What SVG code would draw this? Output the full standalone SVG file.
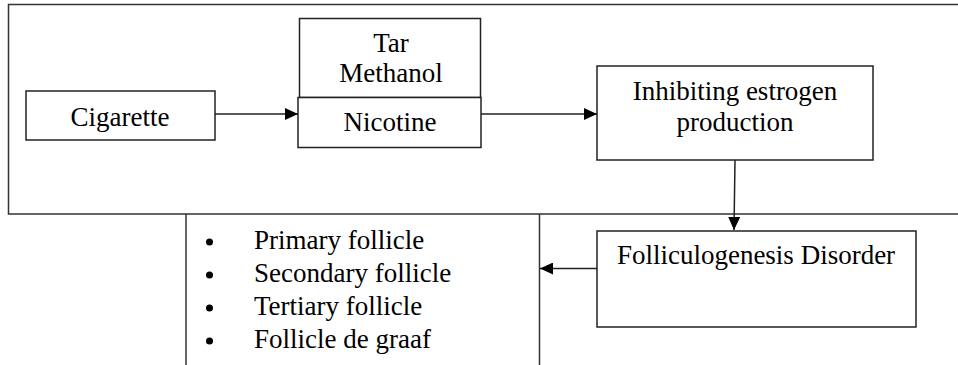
<svg xmlns="http://www.w3.org/2000/svg" width="958" height="365" viewBox="0 0 958 365">
<defs>
<marker id="ah" markerWidth="14" markerHeight="12" refX="13" refY="6" orient="auto" markerUnits="userSpaceOnUse">
<path d="M0,0 L13,6 L0,12 Z" fill="#000"/>
</marker>
<style>
.box{fill:#fff;stroke:#222;stroke-width:1.5}
.frame{fill:none;stroke:#333;stroke-width:1.5}
.t{font-family:"Liberation Serif","Times New Roman",serif;font-size:27px;fill:#000}
.c{text-anchor:middle}
.con{stroke:#222;stroke-width:1.5;fill:none;marker-end:url(#ah)}
</style>
</defs>
<rect width="958" height="365" fill="#fff"/>
<g id="frame">
<path class="frame" d="M958,4.5 H8.5 V214 H958"/>
<path class="frame" d="M186,214 V365 M539.5,214 V365"/>
</g>
<g id="cigarette">
<rect class="box" x="26" y="91" width="189" height="49"/>
<text class="t c" x="120" y="126">Cigarette</text>
</g>
<g id="tar-methanol">
<rect class="box" x="299.5" y="18.5" width="181" height="79"/>
<text class="t c" x="391" y="52">Tar</text>
<text class="t c" x="391" y="82">Methanol</text>
</g>
<g id="nicotine">
<rect class="box" x="298" y="97.5" width="183" height="50"/>
<text class="t c" x="390" y="131">Nicotine</text>
</g>
<g id="inhibiting">
<rect class="box" x="597" y="66" width="276" height="94"/>
<text class="t c" x="735" y="100">Inhibiting estrogen</text>
<text class="t c" x="735" y="131">production</text>
</g>
<g id="folliculogenesis">
<rect class="box" x="597" y="231" width="319" height="96"/>
<text class="t c" x="756" y="264">Folliculogenesis Disorder</text>
</g>
<g id="follicle-list">
<circle cx="209.5" cy="242" r="3.5" fill="#000"/>
<circle cx="209.5" cy="275" r="3.5" fill="#000"/>
<circle cx="209.5" cy="308" r="3.5" fill="#000"/>
<circle cx="209.5" cy="341" r="3.5" fill="#000"/>
<text class="t" x="254" y="249">Primary follicle</text>
<text class="t" x="254" y="282">Secondary follicle</text>
<text class="t" x="254" y="315">Tertiary follicle</text>
<text class="t" x="254" y="348">Follicle de graaf</text>
</g>
<g id="connectors">
<line class="con" x1="215" y1="114" x2="298" y2="114"/>
<line class="con" x1="481" y1="114" x2="597" y2="114"/>
<line class="con" x1="735" y1="160" x2="734" y2="230"/>
<line class="con" x1="597" y1="268.5" x2="540" y2="268.5"/>
</g>
</svg>
